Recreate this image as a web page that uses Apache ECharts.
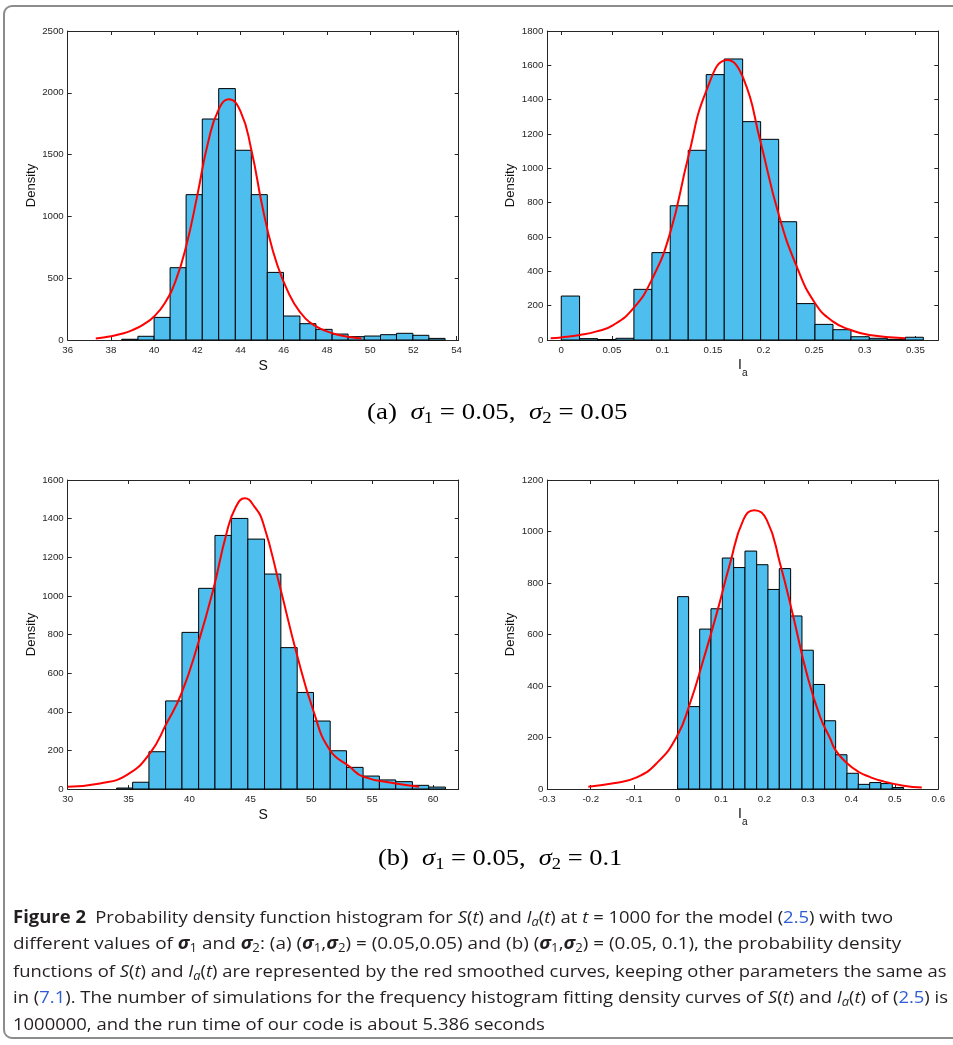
<!DOCTYPE html>
<html>
<head>
<meta charset="utf-8">
<script src="https://cdn.jsdelivr.net/npm/echarts@6/dist/echarts.min.js"></script>
<style>
  html, body { margin: 0; padding: 0; background: #fff; }
  body { width: 953px; height: 1045px; position: relative; overflow: hidden; }
  #frame { position: absolute; left: 3px; top: 5px; width: 990px; height: 1034px;
           border: 2px solid #8c8c8c; border-radius: 9px; box-sizing: border-box; }
  #chart { position: absolute; left: 0; top: 0; width: 953px; height: 1045px; }
  .sub { position: absolute; font-family: "Liberation Serif", "DejaVu Serif", serif; font-size: 23px;
         white-space: nowrap; color: #000; line-height: 28px; transform-origin: center center; }
  .sub sub, .cap sub { font-size: 0.7em; line-height: 0; vertical-align: -0.25em; }
  .cap { position: absolute; font-family: "Open Sans", "Noto Sans", sans-serif; font-size: 17px;
         white-space: nowrap; color: #231f20; line-height: 22px; transform-origin: left center; }
  .blue { color: #2f5cd6; }
</style>
</head>
<body>
<div id="frame"></div>
<div id="chart"></div>

<div class="sub" data-cx="497.5" data-cy="411.5" data-w="261">(a)&nbsp; <i>σ</i><sub>1</sub> = 0.05,&nbsp; <i>σ</i><sub>2</sub> = 0.05</div>
<div class="sub" data-cx="500" data-cy="858" data-w="244">(b)&nbsp; <i>σ</i><sub>1</sub> = 0.05,&nbsp; <i>σ</i><sub>2</sub> = 0.1</div>

<div class="cap" data-x="13" data-cy="916.5" data-w="880"><b>Figure 2</b>&ensp;Probability density function histogram for <i>S</i>(<i>t</i>) and <i>I<sub>a</sub></i>(<i>t</i>) at <i>t</i> = 1000 for the model (<span class="blue">2.5</span>) with two</div>
<div class="cap" data-x="13" data-cy="943.3" data-w="888">different values of <b><i>σ</i></b><sub>1</sub> and <b><i>σ</i></b><sub>2</sub>: (a) (<b><i>σ</i></b><sub>1</sub>,<b><i>σ</i></b><sub>2</sub>) = (0.05,0.05) and (b) (<b><i>σ</i></b><sub>1</sub>,<b><i>σ</i></b><sub>2</sub>) = (0.05, 0.1), the probability density</div>
<div class="cap" data-x="13" data-cy="970.5" data-w="934">functions of <i>S</i>(<i>t</i>) and <i>I<sub>a</sub></i>(<i>t</i>) are represented by the red smoothed curves, keeping other parameters the same as</div>
<div class="cap" data-x="13" data-cy="997.3" data-w="935">in (<span class="blue">7.1</span>). The number of simulations for the frequency histogram fitting density curves of <i>S</i>(<i>t</i>) and <i>I<sub>a</sub></i>(<i>t</i>) of (<span class="blue">2.5</span>) is</div>
<div class="cap" data-x="13" data-cy="1024" data-w="532">1000000, and the run time of our code is about 5.386 seconds</div>

<script>
// (a) left panel: S, sigma2 = 0.05
const s1Edges = [38.5, 39.25, 40, 40.74, 41.48, 42.23, 42.99, 43.76, 44.5, 45.24, 45.99,
                 46.75, 47.49, 48.24, 48.98, 49.73, 50.48, 51.22, 51.98, 52.72, 53.47];
const s1Counts = [6, 30, 183, 585, 1176, 1788, 2034, 1535, 1176, 547,
                  194, 132, 86, 48, 27, 32, 43, 54, 38, 13];
const s1CurveX = [37.3, 38, 38.5, 39, 39.5, 40, 40.5, 41, 41.5, 42, 42.5, 43, 43.46,
                  44, 44.5, 45, 45.5, 46, 46.5, 47, 47.5, 48, 48.5, 49, 49.6];
const s1CurveY = [13, 30, 50, 80, 125, 190, 300, 480, 770, 1170, 1600, 1870, 1947,
                  1850, 1540, 1090, 720, 470, 290, 175, 110, 70, 42, 25, 13];

// (a) right panel: Ia, sigma2 = 0.05
const i1Edges = [0, 0.0181, 0.0359, 0.054, 0.0718, 0.0896, 0.1077, 0.1255, 0.1433, 0.1611, 0.1793,
                 0.1971, 0.2149, 0.2327, 0.2508, 0.2686, 0.2864, 0.3045, 0.3223, 0.3401, 0.3579];
const i1Counts = [256, 8, 3, 10, 295, 509, 782, 1105, 1546, 1637,
                  1272, 1169, 689, 212, 91, 60, 19, 10, 4, 16];
const i1CurveX = [-0.0105, 0, 0.0185, 0.035, 0.0514, 0.0712, 0.0894, 0.1075, 0.1256, 0.1437,
                  0.1641, 0.18, 0.1965, 0.2146, 0.2328, 0.2509, 0.2687, 0.2864, 0.3045, 0.34];
const i1CurveY = [10, 15, 29, 50, 87, 184, 350, 621, 1068, 1456,
                  1631, 1524, 1165, 738, 427, 214, 107, 58, 29, 10];

// (b) left panel: S, sigma2 = 0.1
const s2Edges = [34.02, 35.33, 36.67, 38.04, 39.38, 40.75, 42.09, 43.43, 44.79, 46.16, 47.5,
                 48.84, 50.18, 51.55, 52.89, 54.25, 55.59, 56.93, 58.3, 59.64, 61.01];
const s2Counts = [5, 35, 193, 456, 811, 1039, 1313, 1401, 1294, 1113,
                  732, 500, 352, 198, 112, 67, 47, 38, 19, 10];
const s2CurveX = [30, 32.65, 34.84, 36.75, 38.12, 39.35, 40.71, 41.94, 43.04, 43.8, 44.54,
                  45.3, 46.05, 47.42, 48.79, 50.15, 51.52, 53.16, 54.25, 56.93, 58.85];
const s2CurveY = [12, 29, 72, 185, 340, 496, 754, 1030, 1324, 1460, 1505,
                  1465, 1376, 1048, 703, 409, 202, 115, 64, 29, 12];

// (b) right panel: Ia, sigma2 = 0.1
const i2Edges = [0, 0.0253, 0.0507, 0.0767, 0.1028, 0.1289, 0.155, 0.1819, 0.2079, 0.234, 0.2601,
                 0.2862, 0.3123, 0.3384, 0.3637, 0.3898, 0.4159, 0.442, 0.468, 0.4941, 0.5202];
const i2Counts = [747, 320, 621, 700, 897, 860, 924, 871, 775, 856,
                  672, 539, 406, 265, 133, 61, 18, 25, 21, 6];
const i2CurveX = [-0.2056, -0.148, -0.0942, -0.0482, -0.0021, 0.0285, 0.0591, 0.09, 0.1206, 0.1512,
                  0.1765, 0.2051, 0.2357, 0.2663, 0.2971, 0.3278, 0.3508, 0.3637, 0.39, 0.416,
                  0.442, 0.468, 0.52, 0.562];
const i2CurveY = [9, 22, 45, 100, 203, 333, 501, 682, 876, 1045,
                  1083, 1045, 876, 669, 449, 281, 197, 150, 100, 67,
                  47, 32, 13, 6];

// tick labels
const s1Ticks = [36, 38, 40, 42, 44, 46, 48, 50, 52, 54];
const s1YTicks = [0, 500, 1000, 1500, 2000, 2500];
const i1Ticks = [0, 0.05, 0.1, 0.15, 0.2, 0.25, 0.3, 0.35];
const i1YTicks = [0, 200, 400, 600, 800, 1000, 1200, 1400, 1600, 1800];
const s2Ticks = [30, 35, 40, 45, 50, 55, 60];
const s2YTicks = [0, 200, 400, 600, 800, 1000, 1200, 1400, 1600];
const i2Ticks = [-0.3, -0.2, -0.1, 0, 0.1, 0.2, 0.3, 0.4, 0.5, 0.6];
const i2YTicks = [0, 200, 400, 600, 800, 1000, 1200];

const ink = '#262626';
const font = 'Liberation Sans, Arial, Helvetica, sans-serif';
const plain = v => String(v);   // no thousands separators

const panels = [
    { edges: s1Edges, counts: s1Counts, cx: s1CurveX, cy: s1CurveY, xMin: 36, xMax: 54.1,
      xTicks: s1Ticks, yTicks: s1YTicks, xName: 'S', left: 67.7, top: 31 },
    { edges: i1Edges, counts: i1Counts, cx: i1CurveX, cy: i1CurveY, xMin: -0.0138, xMax: 0.3727,
      xTicks: i1Ticks, yTicks: i1YTicks, xName: 'Ia', left: 547.3, top: 31 },
    { edges: s2Edges, counts: s2Counts, cx: s2CurveX, cy: s2CurveY, xMin: 30, xMax: 62.1,
      xTicks: s2Ticks, yTicks: s2YTicks, xName: 'S', left: 67.7, top: 480 },
    { edges: i2Edges, counts: i2Counts, cx: i2CurveX, cy: i2CurveY, xMin: -0.3, xMax: 0.6,
      xTicks: i2Ticks, yTicks: i2YTicks, xName: 'Ia', left: 547.3, top: 480 }
];

const grids = [], xAxes = [], yAxes = [], series = [];

panels.forEach((p, i) => {
    grids.push({ left: p.left, top: p.top, width: 391, height: 309, outerBoundsMode: 'none' });

    const yMax = p.yTicks[p.yTicks.length - 1];
    const line = { show: true, onZero: false, lineStyle: { color: ink, width: 1 } };

    // x axis name: plain S, or I with subscript a
    let xName = p.xName, xNameStyle = { fontSize: 14, color: '#111', fontFamily: font }, xGap = 19;
    if (p.xName === 'Ia') {
        xName = '{i|I}{s|a}';
        xNameStyle = { rich: {
            i: { fontSize: 14, lineHeight: 26, color: '#111', fontFamily: font },
            s: { fontSize: 10, lineHeight: 10, verticalAlign: 'bottom', color: '#111', fontFamily: font }
        } };
        xGap = 12;
    }

    // bottom and top (mirror) x axes
    xAxes.push({
        type: 'value', gridIndex: i, min: p.xMin, max: p.xMax, position: 'bottom',
        axisLine: line,
        axisTick: { show: true, inside: true, length: 4, customValues: p.xTicks, lineStyle: { color: ink } },
        axisLabel: { customValues: p.xTicks, margin: 5, fontSize: 9.7, color: ink, fontFamily: font, formatter: plain },
        splitLine: { show: false },
        name: xName, nameLocation: 'middle', nameGap: xGap, nameTextStyle: xNameStyle
    });
    xAxes.push({
        type: 'value', gridIndex: i, min: p.xMin, max: p.xMax, position: 'top',
        axisLine: line,
        axisTick: { show: true, inside: true, length: 4, customValues: p.xTicks, lineStyle: { color: ink } },
        axisLabel: { show: false },
        splitLine: { show: false }
    });

    // left and right (mirror) y axes
    yAxes.push({
        type: 'value', gridIndex: i, min: 0, max: yMax, position: 'left',
        axisLine: line,
        axisTick: { show: true, inside: true, length: 4, customValues: p.yTicks, lineStyle: { color: ink } },
        axisLabel: { customValues: p.yTicks, margin: 4, fontSize: 9.7, color: ink, fontFamily: font, formatter: plain },
        splitLine: { show: false },
        name: 'Density', nameLocation: 'middle', nameGap: 30, nameRotate: 90,
        nameTextStyle: { fontSize: 13, color: '#111', fontFamily: font }
    });
    yAxes.push({
        type: 'value', gridIndex: i, min: 0, max: yMax, position: 'right',
        axisLine: line,
        axisTick: { show: true, inside: true, length: 4, customValues: p.yTicks, lineStyle: { color: ink } },
        axisLabel: { show: false },
        splitLine: { show: false }
    });

    // histogram bins [lo, hi, count]
    const bins = p.counts.map((c, k) => [p.edges[k], p.edges[k + 1], c]);
    series.push({
        type: 'custom', xAxisIndex: 2 * i, yAxisIndex: 2 * i,
        data: bins, encode: { x: [0, 1], y: 2 },
        renderItem: function (params, api) {
            const a = api.coord([api.value(0), api.value(2)]);
            const b = api.coord([api.value(1), 0]);
            return {
                type: 'rect',
                shape: { x: a[0], y: a[1], width: b[0] - a[0], height: b[1] - a[1] },
                style: { fill: '#4DBEEE', stroke: '#000', lineWidth: 1 }
            };
        },
        z: 2
    });

    // fitted density curve
    series.push({
        type: 'line', xAxisIndex: 2 * i, yAxisIndex: 2 * i,
        data: p.cx.map((x, k) => [x, p.cy[k]]),
        smooth: 0.5, symbol: 'none',
        lineStyle: { color: '#ff0000', width: 2 },
        z: 5
    });
});

const chart = echarts.init(document.getElementById('chart'));
chart.setOption({
    animation: false,
    grid: grids,
    xAxis: xAxes,
    yAxis: yAxes,
    series: series
});

// fit caption lines to the widths
document.querySelectorAll('.sub').forEach(el => {
    const w = el.offsetWidth, h = el.offsetHeight;
    el.style.left = (parseFloat(el.dataset.cx) - w / 2) + 'px';
    el.style.top = (parseFloat(el.dataset.cy) - h / 2) + 'px';
    el.style.transform = 'scaleX(' + (parseFloat(el.dataset.w) / w) + ')';
});
document.querySelectorAll('.cap').forEach(el => {
    const w = el.offsetWidth, h = el.offsetHeight;
    el.style.left = el.dataset.x + 'px';
    el.style.top = (parseFloat(el.dataset.cy) - h / 2) + 'px';
    el.style.transform = 'scaleX(' + (parseFloat(el.dataset.w) / w) + ')';
});
</script>
</body>
</html>
